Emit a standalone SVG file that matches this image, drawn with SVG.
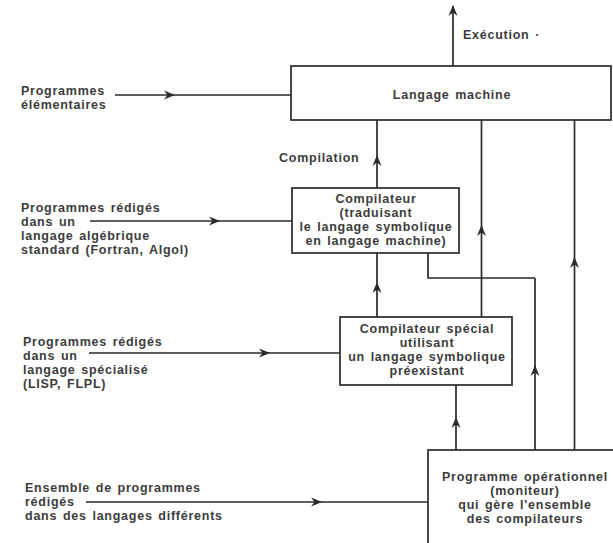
<svg xmlns="http://www.w3.org/2000/svg" width="613" height="543" viewBox="0 0 613 543">
<style>
  .bg { fill: #ffffff; }
  .box { fill: #ffffff; stroke: #2a2a2a; stroke-width: 1.7; }
  .ln { fill: none; stroke: #2a2a2a; stroke-width: 1.7; }
  .t { font-family: "Liberation Sans", Arial, sans-serif; font-weight: bold; font-size: 12.5px; fill: #3c3c3c; letter-spacing: 0.75px; word-spacing: 1.5px; }
  .c { text-anchor: middle; }
</style>
<defs>
  <marker id="ah" viewBox="-11 -6 13 12" markerWidth="13" markerHeight="12" refX="0" refY="0" orient="auto" markerUnits="userSpaceOnUse">
    <path d="M1,0 L-10,-4.5 L-6.5,0 L-10,4.5 Z" fill="#2a2a2a"/>
  </marker>
</defs>
<rect class="bg" x="0" y="0" width="613" height="543"/>

<g id="connectors">
  <path class="ln" d="M453,66 L453,6" />
  <path d="M453,5 L448.5,16 L453,12.5 L457.5,16 Z" fill="#2a2a2a"/>
  <path class="ln" d="M115,95 L174,95 L291,95" marker-mid="url(#ah)"/>
  <path class="ln" d="M90,221 L219,221 L292,221" marker-mid="url(#ah)"/>
  <path class="ln" d="M89,353 L269,353 L340,353" marker-mid="url(#ah)"/>
  <path class="ln" d="M86,502 L321,502 L428,502" marker-mid="url(#ah)"/>
  <path class="ln" d="M377,188 L377,156 L377,120" marker-mid="url(#ah)"/>
  <path class="ln" d="M377,317 L377,283 L377,253" marker-mid="url(#ah)"/>
  <path class="ln" d="M481.5,317 L481.5,226 L481.5,120" marker-mid="url(#ah)"/>
  <path class="ln" d="M456,450 L456,418 L456,385" marker-mid="url(#ah)"/>
  <path class="ln" d="M535,450 L535,366 L535,278" marker-mid="url(#ah)"/>
  <path class="ln" d="M535,278 L428,278 L428,253"/>
  <path class="ln" d="M574.5,450 L574.5,258 L574.5,120" marker-mid="url(#ah)"/>
</g>

<g id="langage-machine">
  <rect class="box" x="291" y="66" width="320" height="54"/>
  <text class="t c" x="452" y="99">Langage machine</text>
</g>

<g id="execution-label">
  <text class="t" x="463" y="39">Exécution ·</text>
</g>

<g id="compilation-label">
  <text class="t" x="279" y="162">Compilation</text>
</g>

<g id="compilateur">
  <rect class="box" x="292" y="188" width="167" height="65"/>
  <text class="t c" x="376" y="203">Compilateur</text>
  <text class="t c" x="376" y="217">(traduisant</text>
  <text class="t c" x="376" y="231">le langage symbolique</text>
  <text class="t c" x="376" y="245">en langage machine)</text>
</g>

<g id="compilateur-special">
  <rect class="box" x="340" y="317" width="172" height="68"/>
  <text class="t c" x="427" y="333">Compilateur spécial</text>
  <text class="t c" x="427" y="347">utilisant</text>
  <text class="t c" x="427" y="361">un langage symbolique</text>
  <text class="t c" x="427" y="375">préexistant</text>
</g>

<g id="programme-operationnel">
  <rect class="box" x="428" y="450" width="190" height="100"/>
  <text class="t c" x="525" y="481">Programme opérationnel</text>
  <text class="t c" x="525" y="495">(moniteur)</text>
  <text class="t c" x="525" y="509">qui gère l'ensemble</text>
  <text class="t c" x="525" y="523">des compilateurs</text>
</g>

<g id="input-elementaires">
  <text class="t" x="21" y="95">Programmes</text>
  <text class="t" x="21" y="109">élémentaires</text>
</g>

<g id="input-algebrique">
  <text class="t" x="21" y="212">Programmes rédigés</text>
  <text class="t" x="21" y="226">dans un</text>
  <text class="t" x="21" y="240">langage algébrique</text>
  <text class="t" x="21" y="254">standard (Fortran, Algol)</text>
</g>

<g id="input-specialise">
  <text class="t" x="23" y="346">Programmes rédigés</text>
  <text class="t" x="23" y="360">dans un</text>
  <text class="t" x="23" y="374">langage spécialisé</text>
  <text class="t" x="23" y="388">(LISP, FLPL)</text>
</g>

<g id="input-ensemble">
  <text class="t" x="25" y="492">Ensemble de programmes</text>
  <text class="t" x="25" y="506">rédigés</text>
  <text class="t" x="25" y="520">dans des langages différents</text>
</g>
</svg>
